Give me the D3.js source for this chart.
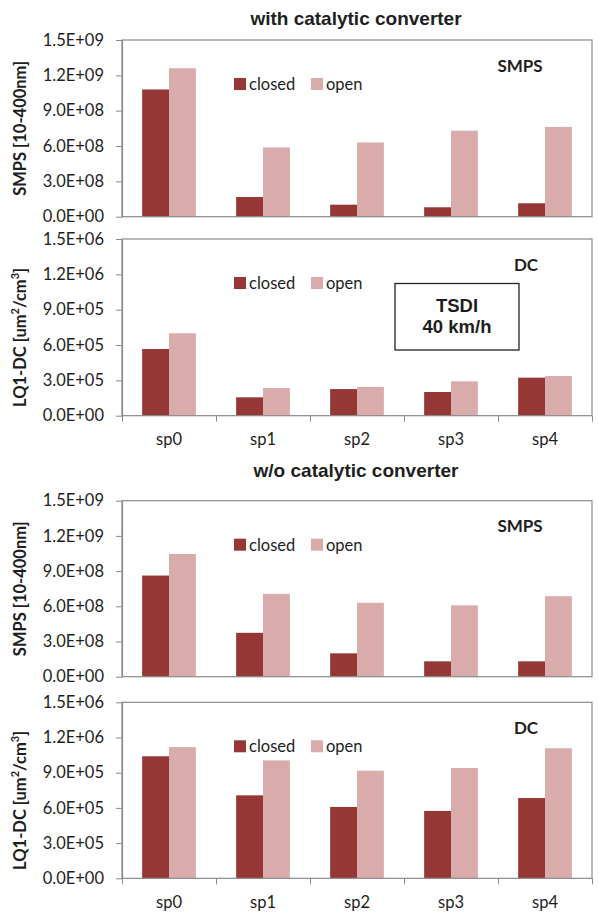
<!DOCTYPE html>
<html>
<head>
<meta charset="utf-8">
<script src="https://cdn.jsdelivr.net/npm/d3@7"></script>
<style>
  body { margin: 0; background: #fff; }
  svg { display: block; }
</style>
</head>
<body>
<svg id="chart" width="599" height="913"></svg>
<script>
// data
const categories = ["sp0", "sp1", "sp2", "sp3", "sp4"];
const seriesNames = ["closed", "open"];

const smpsWithClosed = [1.08e9, 1.67e8, 1.02e8, 8.0e7, 1.14e8];
const smpsWithOpen   = [1.26e9, 5.88e8, 6.30e8, 7.30e8, 7.62e8];
const dcWithClosed   = [5.66e5, 1.56e5, 2.26e5, 2.01e5, 3.23e5];
const dcWithOpen     = [7.00e5, 2.35e5, 2.44e5, 2.92e5, 3.37e5];

const smpsWoClosed = [8.62e8, 3.74e8, 1.99e8, 1.31e8, 1.31e8];
const smpsWoOpen   = [1.046e9, 7.06e8, 6.30e8, 6.08e8, 6.86e8];
const dcWoClosed   = [1.04e6, 7.07e5, 6.08e5, 5.74e5, 6.84e5];
const dcWoOpen     = [1.118e6, 1.005e6, 9.17e5, 9.40e5, 1.108e6];

const smpsTicks = [0, 3e8, 6e8, 9e8, 1.2e9, 1.5e9];
const dcTicks = [0, 3e5, 6e5, 9e5, 1.2e6, 1.5e6];

const colors = {closed: "#953735", open: "#d9abab"};
const calibri = "Lato, 'Open Sans', sans-serif";
const arialBold = "'Liberation Sans', Arial, sans-serif";

// 1.5E+09 style labels
function sci(v) {
    const parts = v.toExponential(1).split("e");
    const sign = parts[1][0];
    let exp = parts[1].slice(1);
    if (exp.length < 2) exp = "0" + exp;
    return parts[0] + "E" + sign + exp;
}

const svg = d3.select("#chart");
const left = 122, right = 592;

const panels = [
    {top: 40,    bottom: 216.7, closed: smpsWithClosed, open: smpsWithOpen, ticks: smpsTicks, tag: "SMPS", tagX: 520, kind: "smps", xLabels: false},
    {top: 239,   bottom: 415.7, closed: dcWithClosed,   open: dcWithOpen,   ticks: dcTicks,   tag: "DC",   tagX: 526, kind: "dc",   xLabels: true},
    {top: 500.7, bottom: 676.7, closed: smpsWoClosed,   open: smpsWoOpen,   ticks: smpsTicks, tag: "SMPS", tagX: 520, kind: "smps", xLabels: false},
    {top: 702.3, bottom: 878.3, closed: dcWoClosed,     open: dcWoOpen,     ticks: dcTicks,   tag: "DC",   tagX: 526, kind: "dc",   xLabels: true}
];

const x = d3.scaleBand()
    .domain(categories)
    .range([left, right])
    .paddingInner(1.5 / 3.5)
    .paddingOuter(0.75 / 3.5);
const xSub = d3.scaleBand()
    .domain(seriesNames)
    .range([0, x.bandwidth()]);
const xEdge = d3.scaleLinear()
    .domain([0, categories.length])
    .range([left, right]);

panels.forEach(p => {
    const y = d3.scaleLinear()
        .domain([0, d3.max(p.ticks)])
        .range([p.bottom, p.top]);
    const g = svg.append("g");

    // bars
    const rows = categories.map((c, i) => ({cat: c, closed: p.closed[i], open: p.open[i]}));
    const grp = g.selectAll("g.cat").data(rows).enter().append("g")
        .attr("transform", d => "translate(" + x(d.cat) + ",0)");
    grp.selectAll("rect")
        .data(d => seriesNames.map(s => ({s: s, v: d[s]})))
        .enter().append("rect")
        .attr("x", d => xSub(d.s))
        .attr("width", xSub.bandwidth())
        .attr("y", d => y(d.v))
        .attr("height", d => p.bottom - y(d.v))
        .attr("fill", d => colors[d.s]);

    // plot frame
    g.append("rect")
        .attr("x", left).attr("y", p.top)
        .attr("width", right - left).attr("height", p.bottom - p.top)
        .attr("fill", "none")
        .attr("stroke", "#8a8a8a")
        .attr("stroke-width", 1.2);

    // y axis
    const yAxis = d3.axisLeft(y)
        .tickValues(p.ticks)
        .tickFormat(sci)
        .tickSize(6)
        .tickSizeOuter(0)
        .tickPadding(12);
    const ya = g.append("g")
        .attr("transform", "translate(" + left + ",0)")
        .call(yAxis);
    ya.select(".domain").attr("stroke", "#8a8a8a").attr("stroke-width", 1.2);
    ya.selectAll(".tick line").attr("stroke", "#8a8a8a");
    ya.selectAll("text")
        .attr("font-family", calibri)
        .attr("font-size", 16.5)
        .attr("fill", "#1e1e1e");

    // x axis: boundary ticks and labels
    if (p.xLabels) {
        const xa = g.append("g")
            .attr("transform", "translate(0," + p.bottom + ")")
            .call(d3.axisBottom(xEdge)
                .tickValues(d3.range(categories.length + 1))
                .tickFormat("")
                .tickSize(6)
                .tickSizeOuter(0));
        xa.select(".domain").remove();
        xa.selectAll(".tick line").attr("stroke", "#8a8a8a");

        const xl = g.append("g")
            .attr("transform", "translate(0," + p.bottom + ")")
            .call(d3.axisBottom(x).tickSize(0).tickPadding(18));
        xl.select(".domain").remove();
        xl.selectAll("text")
            .attr("font-family", calibri)
            .attr("font-size", 16.5)
            .attr("fill", "#1e1e1e");
    }

    // y axis title
    const mid = (p.top + p.bottom) / 2;
    if (p.kind === "smps") {
        g.append("text")
            .attr("transform", "translate(20," + mid + ") rotate(-90)")
            .attr("text-anchor", "middle")
            .attr("dominant-baseline", "central")
            .attr("font-family", calibri)
            .attr("font-weight", 700)
            .attr("font-size", 16.5)
            .attr("fill", "#1e1e1e")
            .text("SMPS [10-400nm]");
    } else {
        const t = g.append("text")
            .attr("transform", "translate(20," + (mid + 10) + ") rotate(-90)")
            .attr("text-anchor", "middle")
            .attr("dominant-baseline", "central")
            .attr("font-family", calibri)
            .attr("font-weight", 700)
            .attr("font-size", 16.5)
            .attr("fill", "#1e1e1e");
        t.append("tspan").text("LQ1-DC [um");
        t.append("tspan").attr("font-size", 11).attr("dy", -6).text("2");
        t.append("tspan").attr("dy", 6).text("/cm");
        t.append("tspan").attr("font-size", 11).attr("dy", -6).text("3");
        t.append("tspan").attr("dy", 6).text("]");
    }

    // legend
    const lg = g.append("g").attr("transform", "translate(234," + (p.top + 38) + ")");
    const li = lg.selectAll("g").data(seriesNames).enter().append("g")
        .attr("transform", (d, i) => "translate(" + (i * 77) + ",0)");
    li.append("rect")
        .attr("width", 12).attr("height", 12)
        .attr("fill", d => colors[d]);
    li.append("text")
        .attr("x", 15).attr("y", 6)
        .attr("dominant-baseline", "central")
        .attr("font-family", calibri)
        .attr("font-size", 16.5)
        .attr("fill", "#1e1e1e")
        .text(d => d);

    // SMPS / DC tag
    g.append("text")
        .attr("x", p.tagX).attr("y", p.top + 25)
        .attr("text-anchor", "middle")
        .attr("dominant-baseline", "central")
        .attr("font-family", calibri)
        .attr("font-weight", 700)
        .attr("font-size", 17)
        .attr("fill", "#1e1e1e")
        .text(p.tag);
});

// panel titles
[["with catalytic converter", 18], ["w/o catalytic converter", 470]].forEach(t => {
    svg.append("text")
        .attr("x", 356).attr("y", t[1])
        .attr("text-anchor", "middle")
        .attr("dominant-baseline", "central")
        .attr("font-family", arialBold)
        .attr("font-weight", 700)
        .attr("font-size", 19)
        .attr("fill", "#1e1e1e")
        .text(t[0]);
});

// TSDI box
svg.append("rect")
    .attr("x", 395).attr("y", 283.5)
    .attr("width", 124).attr("height", 66.5)
    .attr("fill", "#fff")
    .attr("stroke", "#222")
    .attr("stroke-width", 1.3);
[["TSDI", 305.5], ["40 km/h", 326]].forEach(t => {
    svg.append("text")
        .attr("x", 457).attr("y", t[1])
        .attr("text-anchor", "middle")
        .attr("dominant-baseline", "central")
        .attr("font-family", arialBold)
        .attr("font-weight", 700)
        .attr("font-size", 18.5)
        .attr("fill", "#1e1e1e")
        .text(t[0]);
});
</script>
</body>
</html>
